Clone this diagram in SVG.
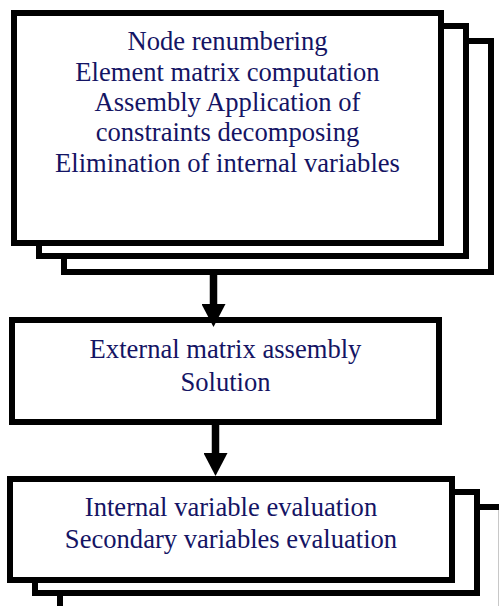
<svg xmlns="http://www.w3.org/2000/svg" width="499" height="606" viewBox="0 0 499 606">
  <style>
    .box { fill: #ffffff; stroke: #000000; stroke-width: 6; }
    .lbl { font-family: "Liberation Serif", "Times New Roman", serif; font-size: 26.6px; fill: #141464; text-anchor: middle; }
    .conn { stroke: #000000; stroke-width: 7.5; fill: none; stroke-linecap: butt; }
  </style>
  <defs>
    <marker id="head" markerUnits="userSpaceOnUse" viewBox="0 0 23 24" refX="0" refY="12" markerWidth="23" markerHeight="24" orient="auto">
      <path d="M0,0 L23,12 L0,24 Z" fill="#000000"/>
    </marker>
  </defs>
  <rect width="499" height="606" fill="#ffffff"/>

  <g id="node-stack-top">
    <rect class="box" x="64" y="41" width="427" height="231"/>
    <rect class="box" x="39" y="26" width="427" height="230"/>
    <rect class="box" x="14" y="13" width="427" height="230"/>
    <text class="lbl" x="227.5" y="50">Node renumbering</text>
    <text class="lbl" x="227.5" y="81">Element matrix computation</text>
    <text class="lbl" x="227.5" y="111">Assembly Application of</text>
    <text class="lbl" x="227.5" y="141">constraints decomposing</text>
    <text class="lbl" x="227.5" y="172">Elimination of internal variables</text>
  </g>

  <g id="node-external">
    <rect class="box" x="12" y="320" width="427" height="102"/>
    <text class="lbl" x="225.5" y="358">External matrix assembly</text>
    <text class="lbl" x="225.5" y="391">Solution</text>
  </g>

  <g id="node-stack-bottom">
    <rect class="box" x="60" y="507" width="460" height="120"/>
    <line x1="498.5" y1="510" x2="498.5" y2="606" stroke="#c8c8c8" stroke-width="1"/>
    <rect class="box" x="35" y="492" width="442" height="101"/>
    <rect class="box" x="10" y="479" width="442" height="101"/>
    <text class="lbl" x="231" y="516">Internal variable evaluation</text>
    <text class="lbl" x="231" y="548">Secondary variables evaluation</text>
  </g>

  <g id="connectors">
    <line class="conn" x1="213.5" y1="274" x2="213.5" y2="304" marker-end="url(#head)"/>
    <line class="conn" x1="215.5" y1="424" x2="215.5" y2="453" marker-end="url(#head)"/>
  </g>
</svg>
